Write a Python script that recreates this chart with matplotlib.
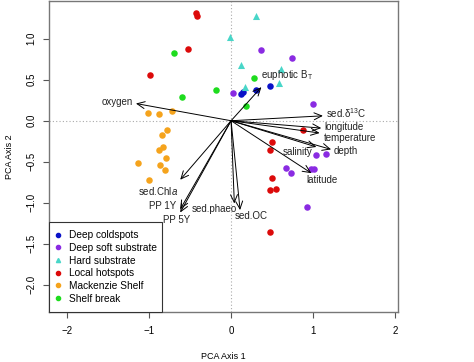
import numpy as np
import matplotlib
matplotlib.use("Agg")
import matplotlib.pyplot as plt
from matplotlib.lines import Line2D

plt.rcParams['font.family'] = ['Liberation Sans', 'DejaVu Sans']
plt.rcParams['mathtext.fontset'] = 'custom'
plt.rcParams['mathtext.rm'] = 'Liberation Sans'
plt.rcParams['mathtext.it'] = 'Liberation Sans:italic'

# site scores per group (PCA axis 1, PCA axis 2)
groups = ["Deep coldspots", "Deep soft substrate", "Hard substrate",
          "Local hotspots", "Mackenzie Shelf", "Shelf break"]
coldspots_x = [0.12, 0.14, 0.30, 0.47]
coldspots_y = [0.33, 0.35, 0.38, 0.42]
softsub_x = [0.02, 0.36, 0.74, 1.00, 1.03, 1.16, 0.67, 0.73, 0.98, 1.01, 0.92]
softsub_y = [0.34, 0.86, 0.77, 0.20, -0.42, -0.41, -0.58, -0.64, -0.59, -0.585, -1.05]
hard_x = [0.30, -0.01, 0.12, 0.61, 0.59, 0.17]
hard_y = [1.28, 1.02, 0.68, 0.63, 0.46, 0.41]
hotspots_x = [-0.43, -0.41, -0.52, -0.99, 0.88, 0.50, 0.47, 0.50, 0.48, 0.55, 0.48]
hotspots_y = [1.32, 1.28, 0.87, 0.56, -0.11, -0.26, -0.36, -0.70, -0.85, -0.83, -1.36]
mackenzie_x = [-1.01, -0.88, -0.72, -0.78, -0.84, -0.83, -0.88, -1.13, -0.79, -0.87, -0.81, -1.00]
mackenzie_y = [0.10, 0.08, 0.12, -0.11, -0.17, -0.32, -0.36, -0.51, -0.46, -0.54, -0.60, -0.72]
shelfbreak_x = [-0.69, -0.18, -0.60, 0.28, 0.18]
shelfbreak_y = [0.83, 0.38, 0.29, 0.52, 0.18]

# environmental loadings (arrow tips)
variables = ["oxygen", "euphotic B$_\\mathrm{T}$", "sed.\u03b4$^{13}$C", "longitude",
             "temperature", "depth", "salinity", "latitude", "sed.Chl$\\it{a}$",
             "PP 1Y", "PP 5Y", "sed.phaeo", "sed.OC"]
load_x = [-1.16, 0.37, 1.12, 1.10, 1.08, 1.22, 1.04, 0.98, -0.62, -0.62, -0.62, 0.04, 0.11]
load_y = [0.21, 0.41, 0.06, -0.09, -0.15, -0.35, -0.32, -0.64, -0.72, -1.08, -1.12, -1.01, -1.09]

# label placement (x, y, ha)
label_pos = [(-1.195, 0.228, 'right'), (0.366, 0.554, 'left'), (1.155, 0.09, 'left'),
             (1.134, -0.077, 'left'), (1.134, -0.207, 'left'), (1.248, -0.373, 'left'),
             (0.996, -0.385, 'right'), (0.915, -0.723, 'left'), (-0.646, -0.854, 'right'),
             (-0.671, -1.040, 'right'), (-0.662, -1.211, 'center'), (0.067, -1.080, 'right'),
             (0.240, -1.159, 'center')]

colors = ['#0a12c8', '#8a2be2', '#48d6c8', '#dc0a0a', '#f5a31c', '#1edc1e']
markers = ['o', 'o', '^', 'o', 'o', 'o']
xs = [coldspots_x, softsub_x, hard_x, hotspots_x, mackenzie_x, shelfbreak_x]
ys = [coldspots_y, softsub_y, hard_y, hotspots_y, mackenzie_y, shelfbreak_y]

fig = plt.figure(figsize=(4.74, 3.62), dpi=100)
ax = fig.add_axes([0.1034, 0.139, 0.737, 0.858])

ax.axhline(0, color='#aaaaaa', lw=0.8, ls=(0, (1, 2)), zorder=1)
ax.axvline(0, color='#aaaaaa', lw=0.8, ls=(0, (1, 2)), zorder=1)

for x, y, c, m in zip(xs, ys, colors, markers):
    ax.scatter(x, y, c=c, marker=m, s=22 if m == 'o' else 26, linewidths=0, zorder=3)

for vx, vy, lab, (tx, ty, ha) in zip(load_x, load_y, variables, label_pos):
    ax.annotate('', xy=(vx, vy), xytext=(0, 0),
                arrowprops=dict(arrowstyle='->,head_length=0.55,head_width=0.25',
                                lw=0.7, color='black', shrinkA=0, shrinkB=0),
                zorder=4)
    ax.text(tx, ty, lab, ha=ha, va='center', fontsize=7, color='#222222', zorder=5)

ax.set_xlim(-2.22, 2.04)
ax.set_ylim(-2.33, 1.46)
ax.set_xticks([-2, -1, 0, 1, 2])
ax.set_yticks([-2.0, -1.5, -1.0, -0.5, 0.0, 0.5, 1.0])
ax.set_yticklabels(['\u22122.0', '\u22121.5', '\u22121.0', '\u22120.5', '0.0', '0.5', '1.0'],
                   rotation=90, va='center')
ax.tick_params(labelsize=7, length=4, width=0.8, color='#555555', pad=6)
ax.tick_params(axis='y', pad=5)
for s in ax.spines.values():
    s.set_color('#777777')
    s.set_linewidth(1)

ax.set_xlabel('PCA Axis 1', fontsize=6.5, labelpad=12)
ax.set_ylabel('PCA Axis 2', fontsize=6.5, labelpad=9)

handles = [Line2D([], [], ls='', marker=m, color=c, markersize=3) for c, m in zip(colors, markers)]
leg = ax.legend(handles, groups, loc='lower left', bbox_to_anchor=(0, 0, 0.3226, 0.2813),
                mode='expand', borderaxespad=0,
                fontsize=7.3, frameon=True, fancybox=False, edgecolor='#333333',
                handlelength=0.3, handletextpad=0.85, labelspacing=0.27,
                borderpad=0.78, framealpha=1)
leg.get_frame().set_linewidth(0.8)

fig.savefig('out.png', dpi=100)
